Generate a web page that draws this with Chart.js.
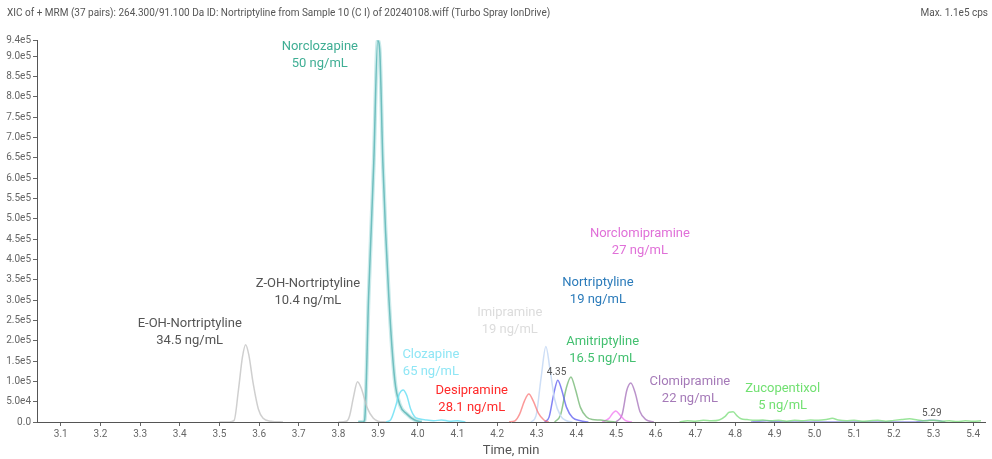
<!DOCTYPE html>
<html lang="en">
<head>
<meta charset="UTF-8">
<title>XIC Nortriptyline</title>
<script src="https://cdn.jsdelivr.net/npm/chart.js@4.4.1/dist/chart.umd.min.js"></script>
<style>
  body { margin: 0; background: #fff; }
  #wrap { width: 992px; height: 459px; }
</style>
</head>
<body>
<div id="wrap"><canvas id="chart"></canvas></div>
<script>
// header texts
const headerLeft = 'XIC of + MRM (37 pairs): 264.300/91.100 Da ID: Nortriptyline from Sample 10 (C I) of 20240108.wiff (Turbo Spray IonDrive)';
const headerRight = 'Max. 1.1e5 cps';

// axis ticks
const xTicks = [3.1, 3.2, 3.3, 3.4, 3.5, 3.6, 3.7, 3.8, 3.9, 4.0, 4.1, 4.2, 4.3, 4.4, 4.5, 4.6, 4.7, 4.8, 4.9, 5.0, 5.1, 5.2, 5.3, 5.4];
const yTicks = [0, 5e4, 1e5, 1.5e5, 2e5, 2.5e5, 3e5, 3.5e5, 4e5, 4.5e5, 5e5, 5.5e5, 6e5, 6.5e5, 7e5, 7.5e5, 8e5, 8.5e5, 9e5, 9.4e5];
const yTickLabels = ['0.0', '5.0e4', '1.0e5', '1.5e5', '2.0e5', '2.5e5', '3.0e5', '3.5e5', '4.0e5', '4.5e5', '5.0e5', '5.5e5', '6.0e5', '6.5e5', '7.0e5', '7.5e5', '8.0e5', '8.5e5', '9.0e5', '9.4e5'];

// traces: [time (min), intensity (cps)]
const eOHNortriptyline = [[3.50, 0], [3.525, 0], [3.537, 4000], [3.548, 80000], [3.558, 160000], [3.566, 190000], [3.574, 165000], [3.585, 95000], [3.598, 32000], [3.61, 9000], [3.63, 2000], [3.66, 0]];
const zOHNortriptyline = [[3.80, 0], [3.82, 2000], [3.828, 15000], [3.838, 62000], [3.848, 99000], [3.858, 82000], [3.872, 36000], [3.888, 9000], [3.90, 2000], [3.92, 0]];
const norclozapine = [[3.85, 0], [3.862, 0], [3.866, 5000], [3.876, 308000], [3.889, 637000], [3.899, 938000], [3.904, 915000], [3.912, 637000], [3.927, 308000], [3.942, 103000], [3.955, 42000], [3.972, 20000], [3.992, 5000], [4.01, 0]];
const clozapine = [[3.92, 0], [3.932, 6000], [3.943, 35000], [3.954, 70000], [3.963, 79000], [3.972, 66000], [3.982, 32000], [3.992, 13000], [4.003, 8000], [4.02, 5000], [4.04, 3000], [4.06, 5000], [4.08, 2000], [4.10, 3000], [4.12, 0]];
const desipramine = [[4.23, 0], [4.245, 3000], [4.257, 20000], [4.269, 52000], [4.280, 69000], [4.291, 52000], [4.304, 22000], [4.318, 5000], [4.33, 0]];
const imipramine = [[4.285, 0], [4.298, 15000], [4.311, 110000], [4.323, 186000], [4.333, 132000], [4.345, 56000], [4.36, 15000], [4.375, 3000], [4.39, 0]];
const nortriptyline = [[4.32, 0], [4.331, 12000], [4.343, 70000], [4.353, 103000], [4.362, 82000], [4.375, 36000], [4.39, 11000], [4.41, 3000], [4.43, 0]];
const amitriptyline = [[4.345, 0], [4.36, 18000], [4.374, 82000], [4.386, 111000], [4.397, 82000], [4.41, 36000], [4.425, 13000], [4.44, 6000], [4.46, 5000], [4.48, 2000], [4.50, 0]];
const norclomipramine = [[4.465, 0], [4.482, 9000], [4.492, 22000], [4.499, 27000], [4.51, 17000], [4.523, 4000], [4.54, 0]];
const clomipramine = [[4.50, 0], [4.515, 18000], [4.527, 78000], [4.537, 96000], [4.548, 72000], [4.56, 26000], [4.575, 6000], [4.595, 0]];
const zucopentixol = [[4.66, 0], [4.68, 3000], [4.70, 2000], [4.72, 4000], [4.74, 3000], [4.76, 5000], [4.775, 14000], [4.785, 24000], [4.795, 25000], [4.805, 15000], [4.815, 8000], [4.83, 6000], [4.85, 4000], [4.87, 5000], [4.89, 3000], [4.91, 4000], [4.93, 2000], [4.95, 4000], [4.97, 3000], [4.99, 5000], [5.01, 4000], [5.03, 6000], [5.045, 9000], [5.06, 5000], [5.08, 3000], [5.10, 4000], [5.12, 2000], [5.14, 3000], [5.16, 4000], [5.18, 2000], [5.20, 4000], [5.22, 6000], [5.24, 8000], [5.26, 5000], [5.28, 3000], [5.30, 4000], [5.32, 2000], [5.34, 3000], [5.36, 1000], [5.38, 3000], [5.40, 2000], [5.42, 3000]];
const minorBlue = [[4.84, 0], [4.86, 2000], [4.88, 3000], [4.90, 1000], [4.92, 0], [5.25, 0], [5.27, 2500], [5.29, 4500], [5.31, 3500], [5.33, 0]];

// peak labels: [time, intensity of first line, name, amount, colour]
const peakLabels = [
  [3.425, 241000, 'E-OH-Nortriptyline', '34.5 ng/mL', '#555555'],
  [3.723, 340000, 'Z-OH-Nortriptyline', '10.4 ng/mL', '#555555'],
  [3.753, 923000, 'Norclozapine', '50 ng/mL', '#3fae94'],
  [4.033, 165000, 'Clozapine', '65 ng/mL', '#8fe6f5'],
  [4.136, 76000, 'Desipramine', '28.1 ng/mL', '#ff2a2a'],
  [4.232, 268000, 'Imipramine', '19 ng/mL', '#dcdcdc'],
  [4.454, 342000, 'Nortriptyline', '19 ng/mL', '#2b7bba'],
  [4.560, 463000, 'Norclomipramine', '27 ng/mL', '#e070d8'],
  [4.466, 197000, 'Amitriptyline', '16.5 ng/mL', '#43c070'],
  [4.686, 98000, 'Clomipramine', '22 ng/mL', '#a57ab8'],
  [4.920, 81000, 'Zucopentixol', '5 ng/mL', '#72e072']
];
const rtLabels = [[4.350, 121000, '4.35'], [5.296, 20000, '5.29']];

function trace(points, color, width) {
  return {
    data: points.map(p => ({ x: p[0], y: p[1] })),
    borderColor: color,
    borderWidth: width || 1.5,
    pointRadius: 0,
    fill: false,
    cubicInterpolationMode: 'monotone'
  };
}

const textPlugin = {
  id: 'texts',
  afterDatasetsDraw(chart) {
    const ctx = chart.ctx;
    const x = chart.scales.x, y = chart.scales.y;
    ctx.save();
    ctx.textBaseline = 'middle';
    ctx.font = '10px Roboto';
    ctx.fillStyle = '#555';
    ctx.textAlign = 'left';
    ctx.fillText(headerLeft, 7, 13);
    ctx.textAlign = 'right';
    ctx.fillText(headerRight, 988, 13);
    ctx.textAlign = 'center';
    ctx.font = '13px Roboto';
    peakLabels.forEach(l => {
      const px = x.getPixelForValue(l[0]);
      const py = y.getPixelForValue(l[1]);
      ctx.fillStyle = l[4];
      ctx.fillText(l[2], px, py);
      ctx.fillText(l[3], px, py + 17);
    });
    ctx.font = '10px Roboto';
    ctx.fillStyle = '#555';
    rtLabels.forEach(l => {
      ctx.fillText(l[2], x.getPixelForValue(l[0]), y.getPixelForValue(l[1]));
    });
    ctx.restore();
  }
};

new Chart(document.getElementById('chart'), {
  type: 'line',
  data: {
    datasets: [
      trace(zucopentixol, 'rgba(120,220,120,0.75)'),
      trace(minorBlue, 'rgba(90,90,220,0.6)'),
      trace(eOHNortriptyline, 'rgba(195,195,195,0.8)'),
      trace(zOHNortriptyline, 'rgba(195,195,195,0.8)'),
      trace(clozapine, 'rgba(110,225,245,0.85)'),
      trace(norclozapine, 'rgba(140,210,210,0.45)', 4),
      trace(norclozapine, 'rgba(70,165,165,0.9)', 1.5),
      trace(desipramine, 'rgba(250,110,110,0.7)'),
      trace(imipramine, 'rgba(200,218,245,0.9)'),
      trace(nortriptyline, 'rgba(90,90,240,0.75)'),
      trace(amitriptyline, 'rgba(110,180,110,0.75)'),
      trace(norclomipramine, 'rgba(240,110,240,0.7)'),
      trace(clomipramine, 'rgba(170,120,190,0.8)')
    ]
  },
  options: {
    responsive: true,
    maintainAspectRatio: false,
    animation: false,
    layout: { padding: { top: 40, right: 7, left: 0, bottom: 0 } },
    plugins: { legend: { display: false }, tooltip: { enabled: false } },
    scales: {
      x: {
        type: 'linear',
        min: 3.04,
        max: 5.43,
        afterBuildTicks: s => { s.ticks = xTicks.map(v => ({ value: v })); },
        afterFit: s => { s.height = 37; },
        ticks: {
          callback: v => v.toFixed(1),
          font: { family: 'Roboto', size: 10 },
          color: '#666',
          padding: 2,
          maxRotation: 0
        },
        grid: { display: true, drawOnChartArea: false, drawTicks: true, tickLength: 4, color: '#666' },
        border: { display: true, color: '#555' },
        title: { display: true, text: 'Time, min', font: { family: 'Roboto', size: 13 }, color: '#555', padding: { top: -3, bottom: 0 } }
      },
      y: {
        type: 'linear',
        min: 0,
        max: 9.4e5,
        afterBuildTicks: s => { s.ticks = yTicks.map(v => ({ value: v })); },
        afterFit: s => { s.width = 37; },
        ticks: {
          callback: (v, i) => yTickLabels[i],
          font: { family: 'Roboto', size: 10 },
          color: '#666',
          padding: 2
        },
        grid: { display: true, drawOnChartArea: false, drawTicks: true, tickLength: 4, color: '#666' },
        border: { display: true, color: '#555' }
      }
    }
  },
  plugins: [textPlugin]
});
</script>
</body>
</html>
